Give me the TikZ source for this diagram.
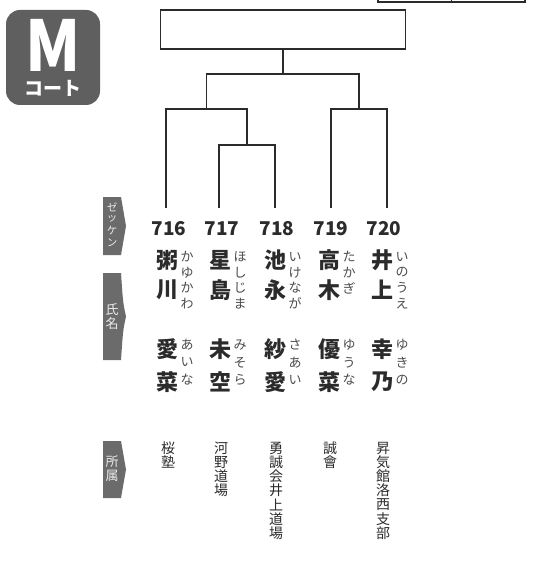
\documentclass[tikz,border=0pt]{standalone}
\usepackage{fontspec}
\newfontfamily\jp{Noto Sans CJK JP}
\usetikzlibrary{positioning}
\definecolor{tabgray}{HTML}{6B6B6B}
\definecolor{badgegray}{HTML}{5F5F5F}
\definecolor{ink}{HTML}{2B2B2B}

\begin{document}
\begin{tikzpicture}[x=1pt,y=-1pt,
bracket/.style={draw=ink,line width=1.8pt},
num/.style={font=\jp\bfseries\fontsize{19}{19}\selectfont,text=ink,inner sep=0pt},
kanji/.style={font=\jp\bfseries\fontsize{22}{22}\selectfont,text=ink,inner sep=0pt},
kana/.style={font=\jp\fontsize{13}{13}\selectfont,text=ink!85,inner sep=0pt},
aff/.style={font=\jp\fontsize{14}{14}\selectfont,text=ink,inner sep=0pt},
tab/.style={fill=tabgray},
tabtext/.style={text=white!85!gray,inner sep=0pt}]

\useasboundingbox (0,0) rectangle (532,585);

% court badge
\fill[badgegray,rounded corners=14pt] (6,10) rectangle (100,105);
\node[font=\jp\bfseries\fontsize{70}{70}\selectfont,text=white,xscale=0.9,inner sep=0pt] (court) at (53,45) {M};
\node[font=\jp\bfseries\fontsize{19}{19}\selectfont,text=white,inner sep=0pt] (courtname) at (53,88) {コート};

% score box cut at the top
\node[draw=ink,line width=1.2pt,minimum width=147pt,minimum height=20pt,inner sep=0pt] (score) at (451.5,-8) {};
\draw[ink,line width=1.2pt] (score.south) -- (score.north);

% bracket
\node[bracket,minimum width=245pt,minimum height=39pt,inner sep=0pt] (final) at (283,29.5) {};

\foreach \lx/\kx/\bib/\famA/\famB/\famR/\givA/\givB/\givR/\club in {
  166/167/716/粥/川/{か,ゆ,か,わ}/愛/菜/{あ,い,な}/{桜,塾},
  219/220/717/星/島/{ほ,し,じ,ま}/未/空/{み,そ,ら}/{河,野,道,場},
  275/275/718/池/永/{い,け,な,が}/紗/愛/{さ,あ,い}/{勇,誠,会,井,上,道,場},
  331/329/719/高/木/{た,か,ぎ}/優/菜/{ゆ,う,な}/{誠,會},
  387/382/720/井/上/{い,の,う,え}/幸/乃/{ゆ,き,の}/{昇,気,館,洛,西,支,部}}{
  \coordinate (l\bib) at (\lx,208);
  \node[num] (n\bib) at (\kx+2,229) {\bib};
  \node[kanji] (f\bib a) at (\kx,260) {\famA};
  \node[kanji] (f\bib b) at (\kx,290) {\famB};
  \foreach \c [count=\i] in \famR
    \node[kana] (fr\bib-\i) at (\kx+20,241.5+15.5*\i) {\c};
  \node[kanji] (g\bib a) at (\kx,349) {\givA};
  \node[kanji] (g\bib b) at (\kx,382) {\givB};
  \foreach \c [count=\i] in \givR
    \node[kana] (gr\bib-\i) at (\kx+20,327.5+17.5*\i) {\c};
  \foreach \c [count=\i] in \club
    \node[aff] (a\bib-\i) at (\kx+1,433.8+14.2*\i) {\c};
}

\coordinate (j78) at (247,145);
\coordinate (j678) at (206.5,109);
\coordinate (j90) at (359,109);
\coordinate (jsf) at (283,74);

\draw[bracket] (l717) |- (j78) -| (l718);
\draw[bracket] (l716) |- (j678) -| (j78);
\draw[bracket] (l719) |- (j90) -| (l720);
\draw[bracket] (j678) |- (jsf) -| (j90);
\draw[bracket] (jsf) -- (final.south);

% side tabs
\foreach \tp/\bt/\st/\sp/\fs/\lab [count=\k] in {197/255/207/12/10.5/{ゼ,ッ,ケ,ン},
    273/360/310/14/13/{氏,名},441/498/462/14/13/{所,属}}{
  \fill[tab] (103,\tp) -- (121,\tp) .. controls (123,\tp/2+\bt/2-14) .. (126,\tp/2+\bt/2)
    .. controls (123,\tp/2+\bt/2+14) .. (121,\bt) -- (103,\bt) -- cycle;
  \foreach \c [count=\i] in \lab
    \node[tabtext,font=\jp\fontsize{\fs}{\fs}\selectfont] (t\k-\i) at (112,\st+\sp*\i-\sp) {\c};
}
\end{tikzpicture}
\end{document}
